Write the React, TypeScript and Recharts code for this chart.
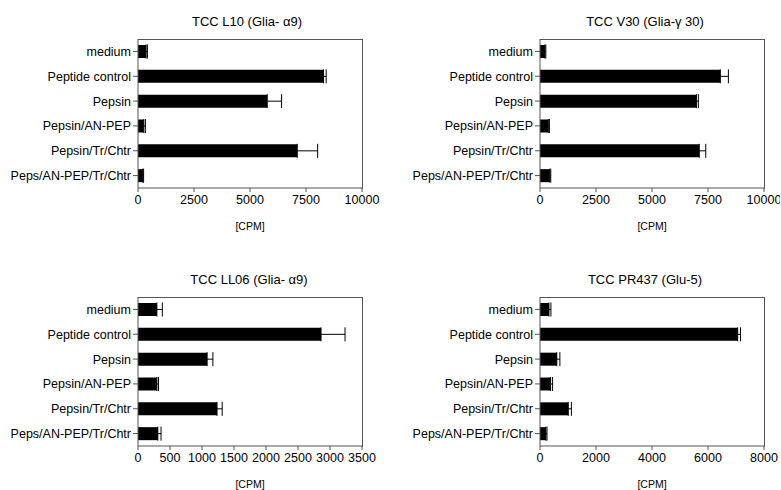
import React from "react";
import { BarChart, Bar, XAxis, YAxis, ErrorBar } from "recharts";

const categories = [
  "medium",
  "Peptide control",
  "Pepsin",
  "Pepsin/AN-PEP",
  "Pepsin/Tr/Chtr",
  "Peps/AN-PEP/Tr/Chtr",
];

const l10Values = [360, 8280, 5770, 260, 7110, 210];
const l10Errors = [60, 120, 640, 70, 910, 40];

const v30Values = [220, 8050, 6990, 370, 7110, 440];
const v30Errors = [40, 360, 80, 50, 290, 40];

const ll06Values = [295, 2860, 1080, 295, 1235, 310];
const ll06Errors = [85, 375, 90, 25, 80, 50];

const pr437Values = [320, 7060, 600, 380, 1010, 210];
const pr437Errors = [70, 100, 110, 70, 110, 40];

const ticks10k = [0, 2500, 5000, 7500, 10000];
const ticks3500 = [0, 500, 1000, 1500, 2000, 2500, 3000, 3500];
const ticks8k = [0, 2000, 4000, 6000, 8000];

const FONT = "'Liberation Sans', Arial, sans-serif";
const AXIS = "#555";
const PLOT_W = 224;
const PLOT_H = 149;
const PLOT_TOP = 39;

interface PanelProps {
  title: string;
  values: number[];
  errors: number[];
  ticks: number[];
  left: number;
  top: number;
  yWidth: number;
  titleX: number;
}

function Panel({ title, values, errors, ticks, left, top, yWidth, titleX }: PanelProps) {
  const data = categories.map((name, i) => ({
    name,
    value: values[i],
    err: [0, errors[i]],
  }));
  const max = ticks[ticks.length - 1];
  const W = 390;
  const H = 245;

  return (
    <div style={{ position: "absolute", left, top, width: W, height: H }}>
      <div
        style={{
          position: "absolute",
          left: titleX - 150,
          width: 300,
          top: 14,
          textAlign: "center",
          fontSize: 13,
          fontFamily: FONT,
          color: "#000",
        }}
      >
        {title}
      </div>
      <BarChart
        width={W}
        height={H}
        data={data}
        layout="vertical"
        margin={{ top: PLOT_TOP, right: W - yWidth - PLOT_W, bottom: 0, left: 0 }}
      >
        <XAxis
          type="number"
          domain={[0, max]}
          ticks={ticks}
          interval={0}
          height={H - PLOT_TOP - PLOT_H}
          tickSize={4}
          tickMargin={3}
          stroke={AXIS}
          tick={{ fill: "#000", fontSize: 12.5, fontFamily: FONT }}
          label={{
            value: "[CPM]",
            position: "insideBottom",
            offset: 15,
            fill: "#000",
            fontSize: 10.5,
            fontFamily: FONT,
          }}
        />
        <YAxis
          type="category"
          dataKey="name"
          width={yWidth}
          interval={0}
          tickSize={5}
          tickMargin={2}
          stroke={AXIS}
          tick={{ fill: "#000", fontSize: 12.5, fontFamily: FONT }}
        />
        <Bar dataKey="value" fill="#000" barSize={13} isAnimationActive={false}>
          <ErrorBar
            dataKey="err"
            direction="x"
            width={7}
            stroke="#000"
            strokeWidth={1}
            isAnimationActive={false}
          />
        </Bar>
      </BarChart>
      <div
        style={{
          position: "absolute",
          left: yWidth,
          top: PLOT_TOP,
          width: PLOT_W + 1,
          height: PLOT_H + 1,
          boxSizing: "border-box",
          borderTop: `1px solid ${AXIS}`,
          borderRight: `1px solid ${AXIS}`,
          pointerEvents: "none",
        }}
      />
    </div>
  );
}

export default function App() {
  return (
    <div
      style={{
        position: "absolute",
        left: 0,
        top: 0,
        width: 781,
        height: 490,
        background: "#fff",
        overflow: "hidden",
      }}
    >
      <Panel
        title="TCC L10 (Glia- α9)"
        values={l10Values}
        errors={l10Errors}
        ticks={ticks10k}
        left={0}
        top={0}
        yWidth={138}
        titleX={247}
      />
      <Panel
        title="TCC V30 (Glia-γ 30)"
        values={v30Values}
        errors={v30Errors}
        ticks={ticks10k}
        left={390}
        top={0}
        yWidth={150}
        titleX={255}
      />
      <Panel
        title="TCC LL06 (Glia- α9)"
        values={ll06Values}
        errors={ll06Errors}
        ticks={ticks3500}
        left={0}
        top={258}
        yWidth={138}
        titleX={249}
      />
      <Panel
        title="TCC PR437 (Glu-5)"
        values={pr437Values}
        errors={pr437Errors}
        ticks={ticks8k}
        left={390}
        top={258}
        yWidth={150}
        titleX={255}
      />
    </div>
  );
}
